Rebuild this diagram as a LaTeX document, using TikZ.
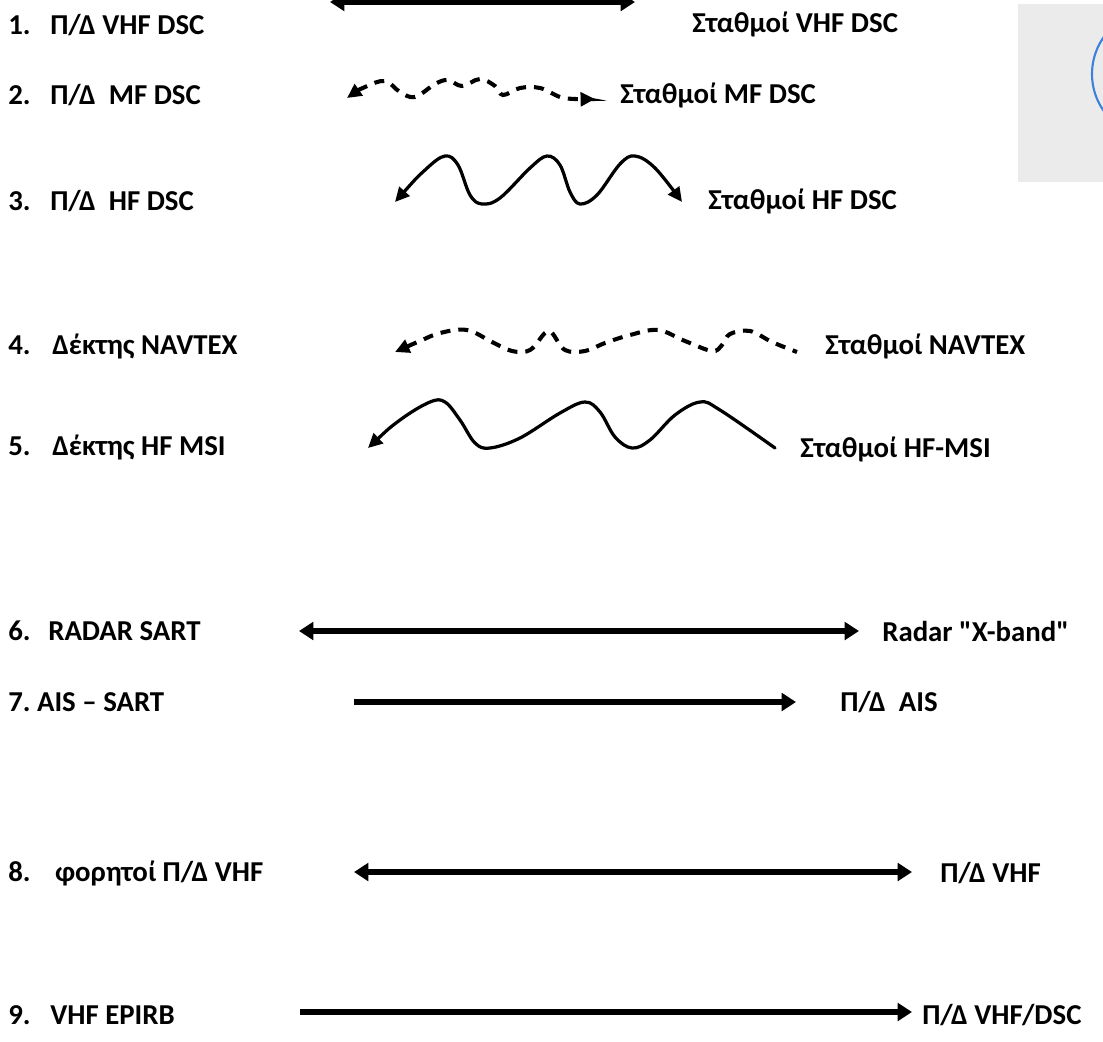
\documentclass[tikz,border=0pt]{standalone}
\usepackage{fontspec}
\setmainfont{Carlito}
\usetikzlibrary{arrows.meta}

\definecolor{ringblue}{RGB}{60,130,220}

\begin{document}
\begin{tikzpicture}[x=0.025cm, y=-0.025cm,
        big/.tip={Triangle[length=0.36cm, width=0.44cm]},
        small/.tip={Triangle[length=0.36cm, width=0.34cm]},
        lbl/.style={anchor=west, inner sep=0pt, font=\bfseries\fontsize{20.5}{24}\selectfont},
        link/.style={line width=3.6pt},
        wave/.style={line width=2.3pt, line cap=round},
        dwave/.style={line width=2.9pt, dash pattern=on 0.25cm off 0.2cm},
    ]
    \useasboundingbox (0,0) rectangle (1103,1041);

    % picture in the corner
    \fill[black!8] (1018,4) rectangle (1110,182);
    \draw[ringblue, line width=1.5pt] (1156,74) circle[radius=64];

    % Row 1
    \node[lbl] (vhfdsc) at (8,25) {\makebox[1.05cm][l]{1.}Π/Δ VHF DSC};
    \node[lbl] (vhfst) at (692,24) {Σταθμοί VHF DSC};
    \coordinate (vhf-l) at (330,2);
    \coordinate (vhf-r) at (635,2);
    \draw[link, big-big] (vhf-l) -- (vhf-r);

    % Row 2
    \node[lbl] (mfdsc) at (8,95) {\makebox[1.05cm][l]{2.}Π/Δ\ \ MF DSC};
    \node[lbl] (mfst) at (620,95) {Σταθμοί MF DSC};
    \draw[dwave, small-small] plot[smooth, tension=0.6] coordinates {(347,98) (365,87) (385,81) (400,92) (415,97) (435,84) (448,80) (462,86) (480,79) (495,86) (503,95) (520,88) (540,88) (560,97) (575,99) (595,99)};

    % Row 3
    \node[lbl] (hfdsc) at (8,201) {\makebox[1.05cm][l]{3.}Π/Δ\ \ HF DSC};
    \node[lbl] (hfst) at (708,201) {Σταθμοί HF DSC};
    \draw[wave, small-small] plot[smooth, tension=0.6] coordinates {(395,202) (425,170) (445,156) (458,165) (470,195) (482,204) (500,198) (530,168) (547,156) (560,165) (570,192) (580,204) (597,195) (620,164) (635,156) (655,168) (682,202)};

    % Row 4
    \node[lbl] (navtex) at (8,346) {\makebox[1.1cm][l]{4.}Δέκτης NAVTEX};
    \node[lbl] (navst) at (825,346) {Σταθμοί NAVTEX};
    \draw[dwave, small-] plot[smooth, tension=0.6] coordinates {(395,352) (420,341) (440,333) (467,330) (492,342) (512,351) (530,350) (545,333) (552,333) (565,350) (585,351) (605,343) (630,335) (658,330) (685,341) (712,351) (722,345) (730,334) (750,331) (772,342) (797,352)};

    % Row 5
    \node[lbl] (hfmsi) at (8,447) {\makebox[1.1cm][l]{5.}Δέκτης HF MSI};
    \node[lbl] (msist) at (800,449) {Σταθμοί HF-MSI};
    \draw[wave, small-] plot[smooth, tension=0.6] coordinates {(368,448) (400,420) (430,402) (445,402) (460,420) (475,443) (490,448) (520,438) (560,413) (585,402) (600,412) (615,437) (632,448) (650,440) (675,415) (700,402) (720,410) (775,448)};

    % Row 6
    \node[lbl] (sart) at (8,631) {\makebox[1.0cm][l]{6.}RADAR SART};
    \node[lbl] (xband) at (882,631) {Radar \textquotedbl X-band\textquotedbl};
    \coordinate (sart-l) at (299,631);
    \coordinate (sart-r) at (859,631);
    \draw[link, big-big] (sart-l) -- (sart-r);

    % Row 7
    \node[lbl] (aissart) at (8,702) {\makebox[0.72cm][l]{7.}AIS – SART};
    \node[lbl] (ais) at (840,702) {Π/Δ\ \ AIS};
    \coordinate (ais-l) at (354,702);
    \coordinate (ais-r) at (796,702);
    \draw[link, -big] (ais-l) -- (ais-r);

    % Row 8
    \node[lbl] (handvhf) at (8,873) {\makebox[1.17cm][l]{8.}φορητοί Π/Δ VHF};
    \node[lbl] (vhf) at (940,873) {Π/Δ VHF};
    \coordinate (hand-l) at (354,872);
    \coordinate (hand-r) at (912,872);
    \draw[link, big-big] (hand-l) -- (hand-r);

    % Row 9
    \node[lbl] (epirb) at (8,1015) {\makebox[1.05cm][l]{9.}VHF EPIRB};
    \node[lbl] (vhfdsc2) at (922,1015) {Π/Δ VHF/DSC};
    \coordinate (epirb-l) at (300,1012);
    \coordinate (epirb-r) at (912,1012);
    \draw[link, -big] (epirb-l) -- (epirb-r);

\end{tikzpicture}
\end{document}
